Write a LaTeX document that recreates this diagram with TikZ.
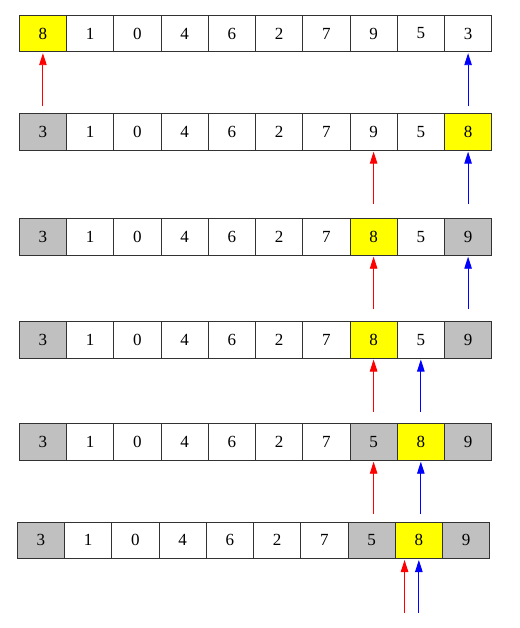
\documentclass[tikz,border=0pt]{standalone}
\usepackage{fontspec}
\setmainfont{Liberation Serif}
\usetikzlibrary{arrows.meta,calc}
\definecolor{cellgray}{RGB}{192,192,192}
\definecolor{cellyellow}{RGB}{255,255,0}
\definecolor{edgegray}{RGB}{50,50,50}
\begin{document}
\begin{tikzpicture}[x=1pt,y=-1pt,
  cell/.style={draw=edgegray,line width=0.9pt,fill=white,minimum width=47.24pt,minimum height=36.5pt,inner sep=0pt,font=\fontsize{17}{19}\selectfont},
  gcell/.style={cell,fill=cellgray},
  ycell/.style={cell,fill=cellyellow},
  redarr/.style={color=red,line width=0.9pt,-{Triangle[length=12pt,width=7.5pt]},shorten >=1pt},
  bluearr/.style={color=blue,line width=0.9pt,-{Triangle[length=12pt,width=7.5pt]},shorten >=1pt}]
\useasboundingbox (0,0) rectangle (519,628);
% row 1
\foreach \v/\s [count=\i from 0] in {8/ycell,1/cell,0/cell,4/cell,6/cell,2/cell,7/cell,9/cell,5/cell,3/cell}
  \node[\s] (r1c\i) at ({19.3+47.24*(\i+0.5)},33.5) {\v};
% row 2
\foreach \v/\s [count=\i from 0] in {3/gcell,1/cell,0/cell,4/cell,6/cell,2/cell,7/cell,9/cell,5/cell,8/ycell}
  \node[\s] (r2c\i) at ({19.3+47.24*(\i+0.5)},132) {\v};
% row 3
\foreach \v/\s [count=\i from 0] in {3/gcell,1/cell,0/cell,4/cell,6/cell,2/cell,7/cell,8/ycell,5/cell,9/gcell}
  \node[\s] (r3c\i) at ({19.3+47.24*(\i+0.5)},237) {\v};
% row 4
\foreach \v/\s [count=\i from 0] in {3/gcell,1/cell,0/cell,4/cell,6/cell,2/cell,7/cell,8/ycell,5/cell,9/gcell}
  \node[\s] (r4c\i) at ({19.3+47.24*(\i+0.5)},339.8) {\v};
% row 5
\foreach \v/\s [count=\i from 0] in {3/gcell,1/cell,0/cell,4/cell,6/cell,2/cell,7/cell,5/gcell,8/ycell,9/gcell}
  \node[\s] (r5c\i) at ({19.3+47.24*(\i+0.5)},442) {\v};
% row 6
\foreach \v/\s [count=\i from 0] in {3/gcell,1/cell,0/cell,4/cell,6/cell,2/cell,7/cell,5/gcell,8/ycell,9/gcell}
  \node[\s] (r6c\i) at ({17.3+47.24*(\i+0.5)},540.3) {\v};
% arrow tails
\coordinate (t1r) at ($(r1c0.south)+(0,54)$);
\coordinate (t1b) at ($(r1c9.south)+(0,54)$);
\coordinate (t2r) at ($(r2c7.south)+(0,53)$);
\coordinate (t2b) at ($(r2c9.south)+(0,53)$);
\coordinate (t3r) at ($(r3c7.south)+(0,53.5)$);
\coordinate (t3b) at ($(r3c9.south)+(0,53.5)$);
\coordinate (t4r) at ($(r4c7.south)+(0,53.5)$);
\coordinate (t4b) at ($(r4c8.south)+(0,53.5)$);
\coordinate (t5r) at ($(r5c7.south)+(0,53)$);
\coordinate (t5b) at ($(r5c8.south)+(0,53)$);
\coordinate (h6r) at ($(r6c8.south)+(-14.3,0)$);
\coordinate (t6r) at ($(r6c8.south)+(-14.3,53.5)$);
\coordinate (t6b) at ($(r6c8.south)+(0,53.5)$);
% arrows
\draw[redarr] (t1r) -- (r1c0.south);
\draw[bluearr] (t1b) -- (r1c9.south);
\draw[redarr] (t2r) -- (r2c7.south);
\draw[bluearr] (t2b) -- (r2c9.south);
\draw[redarr] (t3r) -- (r3c7.south);
\draw[bluearr] (t3b) -- (r3c9.south);
\draw[redarr] (t4r) -- (r4c7.south);
\draw[bluearr] (t4b) -- (r4c8.south);
\draw[redarr] (t5r) -- (r5c7.south);
\draw[bluearr] (t5b) -- (r5c8.south);
\draw[redarr] (t6r) -- (h6r);
\draw[bluearr] (t6b) -- (r6c8.south);
\end{tikzpicture}
\end{document}
